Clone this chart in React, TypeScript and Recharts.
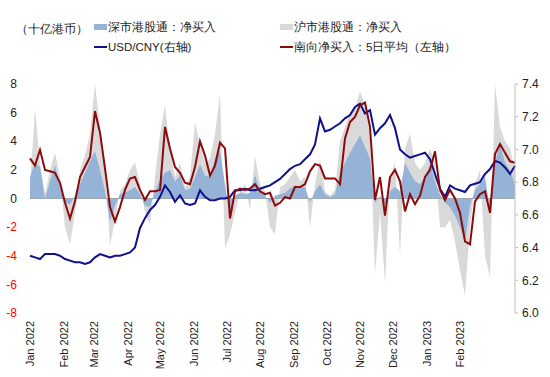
import React from "react";
import { ComposedChart, Area, Line, XAxis, YAxis, ReferenceLine } from "recharts";

// samples roughly every 4.6 days from 2022-01-01
const usdCny = [
  6.35, 6.34, 6.33, 6.36, 6.36, 6.36, 6.35, 6.33, 6.32, 6.31,
  6.31, 6.3, 6.31, 6.34, 6.36, 6.35, 6.34, 6.35, 6.35, 6.36,
  6.37, 6.4, 6.52, 6.58, 6.63, 6.66, 6.71, 6.78, 6.74, 6.68,
  6.72, 6.67, 6.66, 6.67, 6.75, 6.71, 6.69, 6.69, 6.7, 6.7,
  6.71, 6.75, 6.75, 6.76, 6.75, 6.75, 6.76, 6.77, 6.78, 6.8,
  6.82, 6.85, 6.88, 6.9, 6.91, 6.94, 6.97, 7.03, 7.19, 7.11,
  7.12, 7.14, 7.16, 7.19, 7.21, 7.26, 7.28, 7.22, 7.24, 7.09,
  7.13, 7.16, 7.21, 7.13, 7.0, 6.97, 6.95, 6.96, 6.97, 6.98,
  6.94, 6.85, 6.76, 6.71, 6.78, 6.76, 6.75, 6.74, 6.78, 6.79,
  6.8, 6.85, 6.88, 6.93, 6.92, 6.89, 6.85, 6.9,
];

const southbound5d = [
  2.8, 2.3, 3.4, 2.0, 1.9, 1.8, 1.1, -0.3, -1.4, -0.2,
  1.5, 2.2, 2.9, 6.1, 4.6, 2.1, -0.6, -1.6, -0.6, 0.6,
  1.4, 1.5, 0.6, -0.1, 0.5, 0.5, 0.6, 5.0, 3.5, 2.2,
  1.8, 1.1, 1.0, 2.2, 4.0, 3.0, 1.6, 2.3, 3.9, 3.5,
  -1.4, 0.5, 0.7, 0.6, 0.7, 1.0, 0.5, 0.3, 0.4, -0.5,
  -0.3, 0.1, 0.0, 0.8, 0.8, 1.0, 1.9, 2.4, 2.3, 1.4,
  1.4, 1.4, 1.0, 4.2, 5.35, 5.7, 6.5, 6.7, 5.0, -0.1,
  1.5, -1.2, 1.5, 2.0, 1.2, -0.9, 0.3, -0.4, 0.2, 1.5,
  2.0, 3.3, 0.6, -0.1, 0.6, 0.0, -1.0, -3.0, -3.2, -0.2,
  0.3, 0.5, -1.0, 3.1, 3.8, 3.2, 2.6, 2.5,
];

const szNetBuy = [
  1.5, 2.5, 2.2, 0.0, 1.2, 2.3, 0.8, -0.3, -0.4, 0.2,
  1.0, 1.8, 2.6, 3.3, 2.0, 0.5, -1.6, -0.5, 0.3, 0.4,
  0.6, 0.8, 0.3, -0.5, -0.6, 0.5, 1.3, 1.8, 2.0, 1.2,
  1.6, 0.6, 0.7, 1.5, 2.4, 1.6, 1.5, 2.8, 3.3, 1.0,
  -1.2, 0.2, 0.4, 0.3, 0.4, 1.6, 0.6, 0.2, -0.3, 0.2,
  0.3, 0.4, 0.7, 0.9, 0.8, 0.8, -0.3, 0.5, 1.0, 0.3,
  0.1, 0.3, 1.8, 2.5, 3.2, 3.8, 4.4, 3.6, 2.8, -0.3,
  0.2, -0.5, 0.5, 0.8, 0.5, 2.5, 1.8, 1.2, 1.0, 1.5,
  2.4, 1.2, 0.3, -0.3, -0.6, -1.2, -2.0, -3.0, -0.5, 0.6,
  1.0, 1.5, -0.8, 2.5, 3.8, 2.5, 2.0, 1.0,
];

const shNetBuy = [
  0.8, 6.3, 2.5, 0.3, 2.0, 3.2, 1.5, -2.0, -3.2, -1.0,
  2.0, 3.0, 4.5, 8.0, 5.0, 2.5, -3.3, -1.5, 0.5, 1.0,
  2.0, 2.5, 1.0, -1.0, -1.8, 1.5, 4.5, 6.5, 3.5, 1.5,
  2.5, 0.8, 1.5, 5.3, 3.8, 2.5, 2.8, 4.5, 7.3, -3.5,
  -2.5, -1.0, 0.5, 1.0, -0.8, 3.0, 1.0, 0.5, -2.0, -2.5,
  0.8, 1.0, 1.5, 2.0, 1.2, 1.5, -2.0, 1.0, 2.8, 0.5,
  0.2, 0.6, 4.0, 5.0, 6.0, 6.3, 7.5, 6.5, 4.5, -5.3,
  -1.0, -5.9, 1.5, 2.5, -4.0, 3.5, 4.5, 2.5, 2.0, 2.5,
  3.5, 2.5, -2.0, -2.0, -1.5, -3.0, -5.0, -6.8, -2.0, 1.0,
  2.0, -4.0, -5.5, 8.0, 5.0, 4.0, 3.5, 2.0,
];

const STEP_DAYS = 4.6;
const monthDays = [0, 31, 59, 90, 120, 151, 181, 212, 243, 273, 304, 334, 365, 396];
const monthLabels = [
  "Jan 2022", "Feb 2022", "Mar 2022", "Apr 2022", "May 2022", "Jun 2022", "Jul 2022",
  "Aug 2022", "Sep 2022", "Oct 2022", "Nov 2022", "Dec 2022", "Jan 2023", "Feb 2023",
];
const leftTicks = [-8, -6, -4, -2, 0, 2, 4, 6, 8];
const rightTicks = [6.0, 6.2, 6.4, 6.6, 6.8, 7.0, 7.2, 7.4];

const data = usdCny.map((usd, i) => ({
  d: i * STEP_DAYS,
  usd,
  south: southbound5d[i],
  sz: szNetBuy[i],
  sh: shNetBuy[i],
}));

const FONT = "'Liberation Sans', Arial, sans-serif";
const NAVY = "#10108a";
const DARKRED = "#8b0a0a";
const BLUE_FILL = "#95b3d7";
const GREY_FILL = "#d9d9d9";

function MonthTick(props: any) {
  const { x, y, payload } = props;
  const idx = monthDays.indexOf(payload.value);
  return (
    <text
      transform={`translate(${x},${y}) rotate(-90)`}
      textAnchor="end"
      dy="0.35em"
      fontSize={11}
      fontFamily={FONT}
      fill="#222"
    >
      {monthLabels[idx]}
    </text>
  );
}

function LeftTick(props: any) {
  const { x, y, payload } = props;
  return (
    <text
      x={x}
      y={y}
      dy="0.35em"
      textAnchor="end"
      fontSize={12}
      fontFamily={FONT}
      fill={payload.value < 0 ? "#ff0000" : "#222"}
    >
      {payload.value}
    </text>
  );
}

function LegendOverlay() {
  const txt = { fontSize: 11.5, fontFamily: FONT, fill: "#222" };
  return (
    <svg
      width={550}
      height={60}
      style={{ position: "absolute", left: 0, top: 0, pointerEvents: "none" }}
    >
      <text x={16} y={33} {...txt}>（十亿港币）</text>
      <rect x={94} y={24} width={13} height={6} fill={BLUE_FILL} />
      <text x={108} y={31} {...txt}>深市港股通：净买入</text>
      <rect x={280} y={24} width={13} height={6} fill={GREY_FILL} />
      <text x={294} y={31} {...txt}>沪市港股通：净买入</text>
      <line x1={94} x2={107} y1={47} y2={47} stroke={NAVY} strokeWidth={2} />
      <text x={108} y={51} {...txt}>USD/CNY(右轴)</text>
      <line x1={280} x2={293} y1={47} y2={47} stroke={DARKRED} strokeWidth={2} />
      <text x={294} y={51} {...txt}>南向净买入：5日平均（左轴）</text>
    </svg>
  );
}

export default function App() {
  return (
    <div style={{ position: "absolute", left: 0, top: 0, width: 550, height: 377, background: "#fff" }}>
      <ComposedChart
        width={550}
        height={377}
        data={data}
        margin={{ top: 84, right: 0, bottom: 0, left: 0 }}
      >
        <XAxis
          dataKey="d"
          type="number"
          domain={[0, (usdCny.length - 1) * STEP_DAYS]}
          ticks={monthDays}
          interval={0}
          axisLine={false}
          tickLine={false}
          height={64}
          tick={<MonthTick />}
        />
        <YAxis
          yAxisId="left"
          domain={[-8, 8]}
          ticks={leftTicks}
          interval={0}
          width={30}
          axisLine={false}
          tickLine={false}
          tickMargin={7}
          tick={<LeftTick />}
          allowDataOverflow
        />
        <YAxis
          yAxisId="right"
          orientation="right"
          domain={[6.0, 7.4]}
          ticks={rightTicks}
          interval={0}
          width={35}
          axisLine={{ stroke: "#bfbfbf" }}
          tickLine={{ stroke: "#bfbfbf" }}
          tickSize={3}
          tickMargin={4}
          tickFormatter={(v: number) => v.toFixed(1)}
          tick={{ fontSize: 12, fontFamily: FONT, fill: "#222" }}
          allowDataOverflow
        />
        <Area
          yAxisId="left"
          type="linear"
          dataKey="sh"
          stroke="none"
          fill={GREY_FILL}
          fillOpacity={1}
          isAnimationActive={false}
        />
        <Area
          yAxisId="left"
          type="linear"
          dataKey="sz"
          stroke="none"
          fill={BLUE_FILL}
          fillOpacity={1}
          isAnimationActive={false}
        />
        <ReferenceLine yAxisId="left" y={0} stroke="#9ea9b8" strokeWidth={1} />
        <Line
          yAxisId="right"
          type="linear"
          dataKey="usd"
          stroke={NAVY}
          strokeWidth={2}
          dot={false}
          isAnimationActive={false}
        />
        <Line
          yAxisId="left"
          type="linear"
          dataKey="south"
          stroke={DARKRED}
          strokeWidth={2}
          dot={false}
          isAnimationActive={false}
        />
      </ComposedChart>
      <LegendOverlay />
    </div>
  );
}
